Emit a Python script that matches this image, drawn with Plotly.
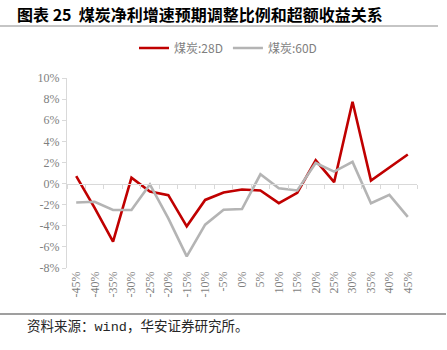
import plotly.graph_objects as go

categories = ["-45%", "-40%", "-35%", "-30%", "-25%", "-20%", "-15%", "-10%", "-5%", "0%",
              "5%", "10%", "15%", "20%", "25%", "30%", "35%", "40%", "45%"]
coal_28d = [0.7, -2.3, -5.5, 0.55, -0.75, -1.1, -4.05, -1.55, -0.85, -0.57,
            -0.66, -1.86, -0.88, 2.2, 0.13, 7.75, 0.28, 1.55, 2.75]
coal_60d = [-1.8, -1.73, -2.5, -2.5, -0.08, -3.3, -6.9, -3.9, -2.48, -2.42,
            0.88, -0.44, -0.65, 1.95, 1.13, 2.05, -1.86, -1.07, -3.15]
y_ticks = [-8, -6, -4, -2, 0, 2, 4, 6, 8, 10]
y_tick_labels = ["-8%", "-6%", "-4%", "-2%", "0%", "2%", "4%", "6%", "8%", "10%"]

W, H = 447, 350
L, R, T, B = 67, 417, 78, 268
pw, ph = R - L, B - T

def px(x):
    return (x - L) / pw

def py(y):
    return (B - y) / ph

axis_col = "#d9d9d9"
label_col = "#7f7f7f"
serif = "Liberation Serif, Times New Roman, serif"
cjk = "Noto Sans CJK SC"

fig = go.Figure()
fig.add_trace(go.Scatter(x=categories, y=coal_28d, mode="lines", name="煤炭:28D",
                         line=dict(color="#C00000", width=2.6)))
fig.add_trace(go.Scatter(x=categories, y=coal_60d, mode="lines", name="煤炭:60D",
                         line=dict(color="#B4B4B4", width=2.6)))
fig.add_trace(go.Scatter(x=categories, y=[None] * len(categories), xaxis="x2",
                         mode="lines", showlegend=False, hoverinfo="skip"))

zero_pos = (0 - y_ticks[0]) / (y_ticks[-1] - y_ticks[0])

fig.update_layout(
    width=W, height=H,
    margin=dict(l=L, r=W - R, t=T, b=H - B, pad=0),
    paper_bgcolor="white", plot_bgcolor="white",
    showlegend=True,
    legend=dict(orientation="h", x=px(228), xanchor="center", y=py(48), yanchor="middle",
                font=dict(family=cjk, size=12, color=label_col),
                itemwidth=30, tracegroupgap=0, bgcolor="rgba(0,0,0,0)"),
    xaxis=dict(type="category", showline=False, ticks="", showgrid=False, zeroline=False,
               tickangle=-90, tickfont=dict(family=serif, size=12, color=label_col),
               range=[-0.5, len(categories) - 0.5]),
    xaxis2=dict(type="category", overlaying="x", matches="x", anchor="free", position=zero_pos,
                showline=True, linecolor=axis_col, linewidth=1, ticks="outside", ticklen=4,
                tickcolor=axis_col, tickson="boundaries", showticklabels=False, showgrid=False,
                zeroline=False),
    yaxis=dict(range=[y_ticks[0], y_ticks[-1]], tickvals=y_ticks, ticktext=y_tick_labels,
               showline=True, linecolor=axis_col, linewidth=1, ticks="outside", ticklen=4,
               tickcolor=axis_col, showgrid=False, zeroline=False,
               tickfont=dict(family=serif, size=12, color=label_col)),
    title=dict(text="<b>图表 25  煤炭净利增速预期调整比例和超额收益关系</b>",
               x=17 / W, xanchor="left", xref="container",
               y=1 - 15 / H, yanchor="middle", yref="container",
               font=dict(family=cjk, size=16, color="#000000")),
    shapes=[
        dict(type="line", xref="paper", yref="paper", x0=px(0), x1=px(438), y0=py(26), y1=py(26),
             line=dict(color="#8c8c8c", width=1.2)),
        dict(type="line", xref="paper", yref="paper", x0=px(0), x1=px(446), y0=py(314), y1=py(314),
             line=dict(color="#404040", width=1.2)),
    ],
    annotations=[
        dict(text="资料来源：<span style='font-family:Liberation Mono'>wind</span>，华安证券研究所。",
             xref="paper", yref="paper", x=px(25), y=py(325), xanchor="left", yanchor="middle",
             showarrow=False, font=dict(family=cjk, size=13.5, color="#262626")),
    ],
)

fig.write_html("out.html")
